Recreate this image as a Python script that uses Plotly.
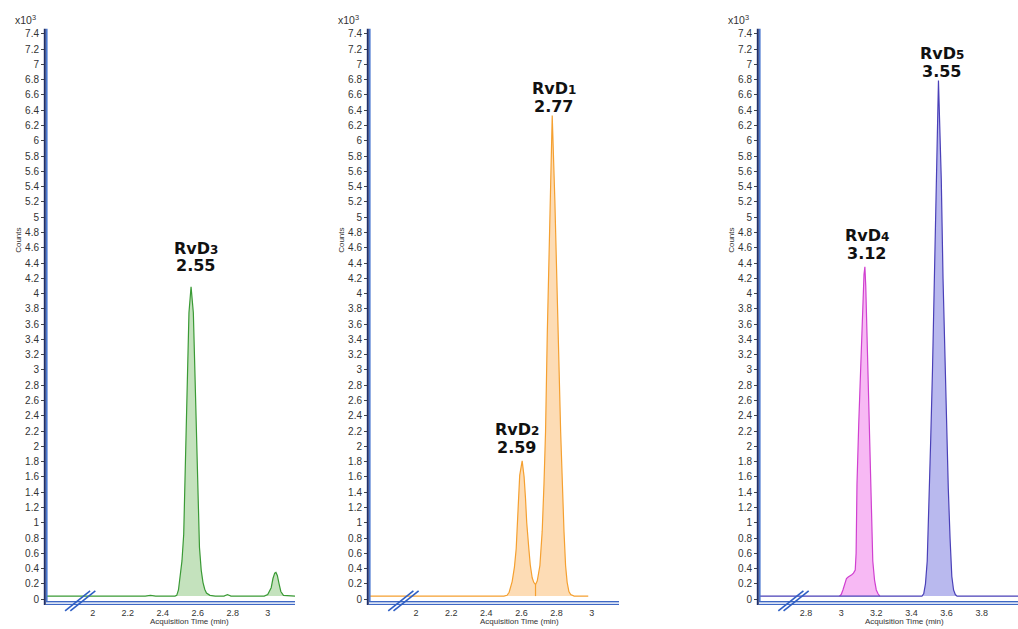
import plotly.graph_objects as go

W, H = 1018, 629

# ---------------- data (counts in units of x10^3, time in min) ----------------
# Panel 1 : RvD3 (green)
t_green = [1.733, 2.30, 2.33, 2.36, 2.47, 2.48, 2.49, 2.50, 2.51, 2.52, 2.53, 2.54, 2.55,
           2.562, 2.575, 2.585, 2.59, 2.60, 2.61, 2.62, 2.63, 2.64, 2.65, 2.67, 2.70, 2.75,
           2.77, 2.79, 2.98, 3.00, 3.02, 3.03, 3.04, 3.047, 3.055, 3.065, 3.075, 3.09, 3.156]
c_green = [0.04, 0.04, 0.05, 0.04, 0.04, 0.05, 0.12, 0.28, 0.50, 0.85, 1.75, 2.95, 3.75,
           4.09, 3.75, 2.88, 2.40, 1.58, 0.68, 0.38, 0.22, 0.13, 0.08, 0.05, 0.04, 0.04,
           0.06, 0.04, 0.04, 0.06, 0.15, 0.27, 0.34, 0.35, 0.31, 0.20, 0.10, 0.05, 0.04]

# Panel 2 : RvD2 + RvD1 (orange)
t_orange = [1.733, 2.50, 2.518, 2.53, 2.547, 2.56, 2.57, 2.581, 2.59, 2.604, 2.615, 2.623,
            2.63, 2.642, 2.65, 2.661, 2.67, 2.68, 2.69, 2.705, 2.718, 2.728, 2.737, 2.747,
            2.762, 2.775, 2.790, 2.807, 2.823, 2.842, 2.851, 2.86, 2.87, 2.88, 2.90, 2.98]
c_orange = [0.04, 0.04, 0.05, 0.09, 0.23, 0.42, 0.66, 1.32, 1.62, 1.81, 1.60, 1.32,
            1.00, 0.66, 0.45, 0.28, 0.22, 0.19, 0.24, 0.44, 0.89, 1.50, 2.19, 3.49,
            5.22, 6.33, 5.22, 3.49, 2.19, 0.89, 0.44, 0.22, 0.10, 0.06, 0.04, 0.04]
drop_t = [2.68, 2.68]
drop_c = [0.04, 0.19]

# Panel 3 : RvD4 (pink) and RvD5 (blue)
t_pink = [2.99, 3.00, 3.01, 3.02, 3.03, 3.04, 3.05, 3.06, 3.07, 3.08, 3.085, 3.09, 3.10,
          3.11, 3.12, 3.13, 3.135, 3.14, 3.15, 3.16, 3.17, 3.18, 3.19, 3.20, 3.21, 3.22]
c_pink = [0.04, 0.06, 0.12, 0.20, 0.27, 0.29, 0.30, 0.32, 0.34, 0.38, 0.60, 1.50, 2.30,
          3.00, 3.80, 4.25, 4.35, 4.10, 3.20, 2.20, 1.10, 0.50, 0.25, 0.12, 0.07, 0.04]
t_blue = [2.532, 3.46, 3.47, 3.48, 3.49, 3.50, 3.51, 3.52, 3.53, 3.54, 3.548, 3.554, 3.56,
          3.57, 3.58, 3.59, 3.60, 3.61, 3.62, 3.63, 3.64, 3.65, 3.66, 4.05]
c_blue = [0.04, 0.04, 0.07, 0.20, 0.50, 1.20, 2.10, 3.00, 4.10, 5.20, 6.20, 6.79, 6.30,
          5.50, 4.20, 3.20, 2.20, 1.45, 0.80, 0.30, 0.12, 0.06, 0.04, 0.04]

baseline = 0.04

# peak labels: name, subscript, retention time, label centre time, number-baseline level
lab_panel = [1, 2, 2, 3, 3]
lab_name = ["RvD", "RvD", "RvD", "RvD", "RvD"]
lab_sub = ["3", "2", "1", "4", "5"]
lab_rt = ["2.55", "2.59", "2.77", "3.12", "3.55"]
lab_t = [2.590, 2.572, 2.785, 3.145, 3.572]
lab_y = [4.32, 1.945, 6.406, 4.485, 6.862]

x_ticks_1 = [2, 2.2, 2.4, 2.6, 2.8, 3]
x_ticks_2 = [2, 2.2, 2.4, 2.6, 2.8, 3]
x_ticks_3 = [2.8, 3, 3.2, 3.4, 3.6, 3.8, 4]
x_ranges = [[1.733, 3.156], [1.7325, 3.155], [2.532, 4.007]]
y_range = [-0.052, 7.465]

# ---------------- layout geometry (pixels) ----------------
axis_px = [46, 369, 759]
right_px = [295, 619, 1018]
top_px, bottom_px = 28, 605

def px_x(p):
    return p / W

def px_y(p):
    return (H - p) / H

fig = go.Figure()

def add_panel(n, t, c, line_col, fill_col):
    xa = "x" if n == 1 else f"x{n}"
    ya = "y" if n == 1 else f"y{n}"
    fig.add_trace(go.Scatter(x=[t[0], t[-1]], y=[baseline, baseline], mode="lines",
                             line=dict(width=0, color="rgba(0,0,0,0)"),
                             xaxis=xa, yaxis=ya, showlegend=False, hoverinfo="skip"))
    fig.add_trace(go.Scatter(x=t, y=c, mode="lines", fill="tonexty", fillcolor=fill_col,
                             line=dict(color=line_col, width=1.2),
                             xaxis=xa, yaxis=ya, showlegend=False))

add_panel(1, t_green, c_green, "#3a9a35", "#c4e2bd")
add_panel(2, t_orange, c_orange, "#f5a030", "#fddcb5")
fig.add_trace(go.Scatter(x=drop_t, y=drop_c, mode="lines", line=dict(color="#f5a030", width=1.2),
                         xaxis="x2", yaxis="y2", showlegend=False))
add_panel(3, t_pink, c_pink, "#d040d0", "#f7b9f4")
add_panel(3, t_blue, c_blue, "#4a40b8", "#b9b9ee")

ytickfont = dict(family="Liberation Sans, Arial, sans-serif", size=10, color="#333333")
xtickfont = dict(family="Liberation Sans, Arial, sans-serif", size=9, color="#333333")
ydom = [px_y(bottom_px), px_y(top_px)]
x_ticks = [x_ticks_1, x_ticks_2, x_ticks_3]

for i in range(3):
    n = i + 1
    sfx = "" if n == 1 else str(n)
    fig.layout[f"xaxis{sfx}"] = dict(
        domain=[px_x(axis_px[i]), px_x(right_px[i])], range=x_ranges[i],
        tickmode="array", tickvals=x_ticks[i], ticks="outside", ticklen=1,
        tickcolor="#444444", tickfont=xtickfont, showgrid=False, zeroline=False,
        showline=False, anchor=f"y{sfx}", fixedrange=True)
    fig.layout[f"yaxis{sfx}"] = dict(
        domain=ydom, range=y_range, tick0=0, dtick=0.2, ticks="outside", ticklen=4,
        tickcolor="#444444", tickfont=ytickfont, showgrid=False, zeroline=False,
        showline=False, anchor=f"x{sfx}", fixedrange=True)

shapes = []
annotations = []
for i in range(3):
    a = axis_px[i]
    r = right_px[i]
    # y axis: dark + blue double stroke
    shapes.append(dict(type="line", xref="paper", yref="paper", x0=px_x(a - 1.2), x1=px_x(a - 1.2),
                       y0=px_y(bottom_px + 2), y1=px_y(top_px), line=dict(color="#1f2f6a", width=2)))
    shapes.append(dict(type="line", xref="paper", yref="paper", x0=px_x(a + 0.8), x1=px_x(a + 0.8),
                       y0=px_y(bottom_px + 2), y1=px_y(top_px), line=dict(color="#4a78d0", width=1.6)))
    # x axis: double blue line
    shapes.append(dict(type="rect", xref="paper", yref="paper", x0=px_x(a), x1=px_x(r),
                       y0=px_y(606.5), y1=px_y(603.5), line=dict(width=0), fillcolor="#dbe3f4"))
    for yy in (603.6, 606.4):
        shapes.append(dict(type="line", xref="paper", yref="paper", x0=px_x(a), x1=px_x(r),
                           y0=px_y(yy), y1=px_y(yy), line=dict(color="#3f68c4", width=1.2)))
    # axis break marks "//"
    sfx = "" if i == 0 else str(i + 1)
    x0r, x1r = x_ranges[i]
    span = x1r - x0r
    first_tick = x_ticks[i][0]
    for off in (0.0, 0.03):
        ta = first_tick - 0.158 + off
        tb = first_tick - 0.015 + off
        shapes.append(dict(type="line", xref=f"x{sfx} domain", yref=f"y{sfx} domain",
                           x0=(ta - x0r) / span, x1=(tb - x0r) / span,
                           y0=(-0.152 - y_range[0]) / (y_range[1] - y_range[0]),
                           y1=(0.108 - y_range[0]) / (y_range[1] - y_range[0]),
                           line=dict(color="#2f5fc4", width=1.6)))
    # x10^3
    annotations.append(dict(xref="paper", yref="paper", x=px_x(a - 8), y=px_y(19),
                            xanchor="right", yanchor="middle", showarrow=False,
                            text="x10<sup>3</sup>",
                            font=dict(family="Liberation Sans, Arial, sans-serif", size=10.5,
                                      color="#333333")))
    # Counts
    annotations.append(dict(xref="paper", yref="paper", x=px_x(a - 27), y=px_y(241),
                            xanchor="center", yanchor="middle", showarrow=False, textangle=-90,
                            text="Counts",
                            font=dict(family="Liberation Sans, Arial, sans-serif", size=8,
                                      color="#333333")))

title_cx = [189, 519, 904]
for i in range(3):
    annotations.append(dict(xref="paper", yref="paper", x=px_x(title_cx[i]), y=0,
                            xanchor="center", yanchor="bottom", showarrow=False, borderpad=0,
                            text="Acquisition Time (min)",
                            font=dict(family="Liberation Sans, Arial, sans-serif", size=8,
                                      color="#333333")))

lab_font = dict(family="DejaVu Sans, sans-serif", size=16, color="#111111")
for k in range(len(lab_rt)):
    p = lab_panel[k]
    sfx = "" if p == 1 else str(p)
    annotations.append(dict(xref=f"x{sfx}", yref=f"y{sfx}", x=lab_t[k], y=lab_y[k],
                            xanchor="center", yanchor="bottom", yshift=-7, borderpad=0,
                            showarrow=False, text=f"<b>{lab_rt[k]}</b>", font=lab_font))
    annotations.append(dict(xref=f"x{sfx}", yref=f"y{sfx}", x=lab_t[k], y=lab_y[k],
                            xanchor="center", yanchor="bottom", yshift=10.5, borderpad=0,
                            showarrow=False,
                            text=f"<b>{lab_name[k]}<span style='font-size:12px'>{lab_sub[k]}</span></b>",
                            font=lab_font))

fig.update_layout(width=W, height=H, margin=dict(l=0, r=0, t=0, b=0, pad=0),
                  paper_bgcolor="white", plot_bgcolor="white",
                  shapes=shapes, annotations=annotations, showlegend=False)

fig.write_html("out.html", config={"displayModeBar": False},
               post_script="document.body.style.margin='0';document.body.style.overflow='hidden';")
